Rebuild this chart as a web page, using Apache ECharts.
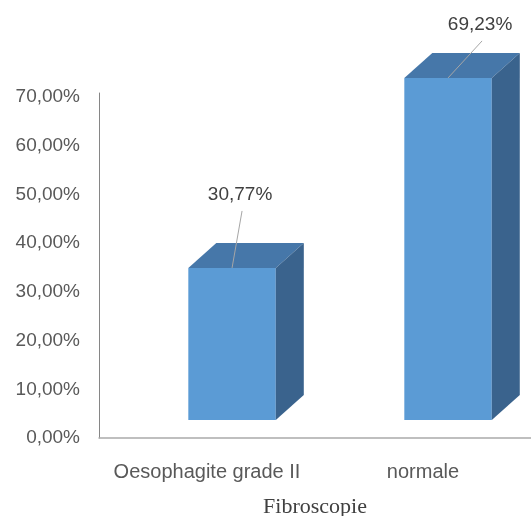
<!DOCTYPE html>
<html>
<head>
<meta charset="utf-8">
<script src="https://cdn.jsdelivr.net/npm/echarts@6/dist/echarts.min.js"></script>
<style>
  html, body { margin: 0; padding: 0; background: #fff; }
  #chart { width: 531px; height: 516px; }
</style>
</head>
<body>
<div id="chart"></div>
<script>
// Fibroscopie results (share of patients)
const categories = ['Oesophagite grade II', 'normale'];
const values = [0.3077, 0.6923];
const yTicks = [0, 0.1, 0.2, 0.3, 0.4, 0.5, 0.6, 0.7];

// Placement of each value label relative to the top-front edge of its column
const labelShift = [[8, -73], [32, -53]];

// Pseudo-3D column geometry
const DEPTH_X = 28;      // horizontal depth offset
const DEPTH_Y = 25;      // vertical depth offset
const FLOOR_LIFT = 18;   // front face sits above the axis baseline
const PERSPECTIVE = 1.014;
const FRONT = '#5b9bd5', TOP = '#4677a9', SIDE = '#3a638d';

function pct(v) {
  return (v * 100).toFixed(2).replace('.', ',') + '%';
}

const chart = echarts.init(document.getElementById('chart'), null, { renderer: 'canvas' });

chart.setOption({
  animation: false,
  backgroundColor: '#ffffff',
  grid: { left: 99, right: 0, top: 93, bottom: 78, containLabel: false, outerBoundsMode: 'none' },
  xAxis: {
    type: 'category',
    data: categories,
    axisLine: { lineStyle: { color: '#aaaaaa', width: 1.5 } },
    axisTick: { show: false },
    axisLabel: {
      interval: 0,
      hideOverlap: false,
      color: '#595959', fontSize: 20, lineHeight: 20,
      fontFamily: 'Liberation Sans', margin: 24
    },
    name: 'Fibroscopie',
    nameLocation: 'middle',
    nameGap: 58,
    nameTextStyle: { color: '#404040', fontSize: 22, fontFamily: 'Liberation Serif' }
  },
  yAxis: {
    type: 'value',
    min: 0,
    max: 0.708,
    interval: 0.1,
    splitLine: { show: false },
    axisTick: { show: false },
    axisLine: { show: true, lineStyle: { color: '#868686', width: 1 } },
    axisLabel: {
      color: '#595959', fontSize: 19, fontFamily: 'Liberation Sans', margin: 19,
      formatter: function (v) {
        const hit = yTicks.find(t => Math.abs(t - v) < 1e-6);
        return hit === undefined ? '' : pct(hit);
      }
    }
  },
  series: [{
    type: 'custom',
    clip: false,
    data: values.map((v, i) => [i, v]),
    renderItem: function (params, api) {
      const idx = api.value(0);
      const v = api.value(1);
      const base = api.coord([idx, 0]);
      const tip = api.coord([idx, v]);
      const band = api.size([1, 0])[0];
      const w = band * 0.405;
      const cx = base[0] + band * 0.116;
      const h = (base[1] - tip[1]) * PERSPECTIVE;
      const y0 = base[1] - FLOOR_LIFT;
      const y1 = y0 - h;
      const x0 = cx - w / 2, x1 = cx + w / 2;
      const sh = labelShift[params.dataIndex];
      const lx = cx + sh[0], ly = y1 + sh[1];
      return {
        type: 'group',
        children: [
          { type: 'rect', shape: { x: x0, y: y1, width: w, height: h }, style: { fill: FRONT } },
          { type: 'polygon', shape: { points: [[x0, y1], [x0 + DEPTH_X, y1 - DEPTH_Y], [x1 + DEPTH_X, y1 - DEPTH_Y], [x1, y1]] }, style: { fill: TOP } },
          { type: 'polygon', shape: { points: [[x1, y1], [x1 + DEPTH_X, y1 - DEPTH_Y], [x1 + DEPTH_X, y0 - DEPTH_Y], [x1, y0]] }, style: { fill: SIDE } },
          { type: 'line', shape: { x1: cx, y1: y1, x2: lx + 2, y2: ly + 16 }, style: { stroke: '#a6a6a6', lineWidth: 1 } },
          { type: 'text', x: lx, y: ly, style: { text: pct(v), fill: '#404040', fontSize: 19, fontFamily: 'Liberation Sans', align: 'center', verticalAlign: 'middle' } }
        ]
      };
    }
  }]
});
</script>
</body>
</html>
